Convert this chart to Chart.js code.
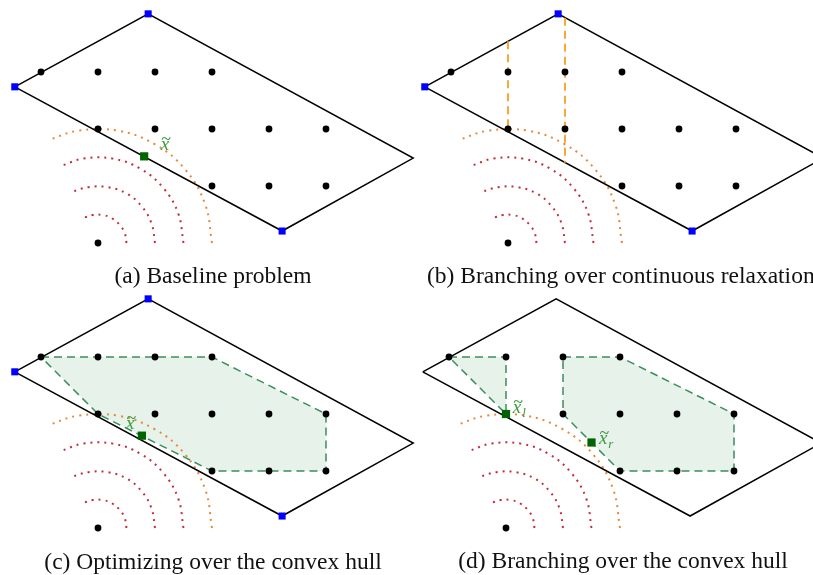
<!DOCTYPE html>
<html>
<head>
<meta charset="utf-8">
<script src="https://cdn.jsdelivr.net/npm/chart.js@4/dist/chart.umd.min.js"></script>
<style>
  html, body { margin: 0; padding: 0; background: #fff; }
  #wrap { position: relative; width: 813px; height: 575px; overflow: hidden; }
  canvas { position: absolute; }
  .cap { position: absolute; font-family: "Liberation Serif", "DejaVu Serif", serif; font-size: 23.5px;
         line-height: 23.5px; white-space: nowrap; color: #111; }
</style>
</head>
<body>
<div id="wrap">
  <canvas id="pa" width="420" height="272" style="left:0;top:0"></canvas>
  <canvas id="pb" width="420" height="272" style="left:410px;top:0"></canvas>
  <canvas id="pc" width="420" height="272" style="left:0;top:285px"></canvas>
  <canvas id="pd" width="420" height="272" style="left:408px;top:285px"></canvas>
  <div class="cap" style="left:213px;top:264px;transform:translateX(-50%)">(a) Baseline problem</div>
  <div class="cap" style="left:427px;top:264px">(b) Branching over continuous relaxation</div>
  <div class="cap" style="left:213px;top:550px;transform:translateX(-50%)">(c) Optimizing over the convex hull</div>
  <div class="cap" style="left:623px;top:549px;transform:translateX(-50%)">(d) Branching over the convex hull</div>
</div>
<script>
// integer lattice points
const latticeX = [-1, 0, 1, 2, 0, 1, 2, 3, 4, 2, 3, 4, 0];
const latticeY = [3, 3, 3, 3, 2, 2, 2, 2, 2, 1, 1, 1, 0];

// feasible region (parallelogram), left -> top -> right -> bottom
const regionX = [-1.46, 0.88, 5.53, 3.23];
const regionY = [2.74, 4.02, 1.49, 0.21];

// contour arcs of the objective (inner three red, outer orange)
const arc1X = [0.5, 0.47, 0.38, 0.25, 0.09, -0.09, -0.23];
const arc1Y = [0, 0.17, 0.32, 0.43, 0.49, 0.49, 0.45];
const arc2X = [1, 0.94, 0.77, 0.5, 0.17, -0.17, -0.45];
const arc2Y = [0, 0.34, 0.64, 0.87, 0.98, 0.98, 0.9];
const arc3X = [1.5, 1.41, 1.15, 0.75, 0.26, -0.26, -0.65];
const arc3Y = [0, 0.51, 0.96, 1.3, 1.48, 1.48, 1.35];
const arc4X = [2, 1.88, 1.53, 1, 0.35, -0.35, -0.86];
const arc4Y = [0, 0.68, 1.29, 1.73, 1.97, 1.97, 1.81];

// relaxation optimum
const optA = { x: 0.81, y: 1.52 };
const optC = { x: 0.77, y: 1.62 };
const optL = { x: 0, y: 2 };
const optR = { x: 1.5, y: 1.5 };

// branching cuts on the continuous relaxation
const cutLeftX = [0, 0];
const cutLeftY = [3.54, 1.95];
const cutRightX = [1, 1];
const cutRightY = [3.95, 1.41];

// convex hulls
const hullX = [-1, 2, 4, 4, 2, 0, -1];
const hullY = [3, 3, 2, 1, 1, 2, 3];
const hullLX = [-1, 0, 0, -1];
const hullLY = [3, 3, 2, 3];
const hullRX = [1, 2, 4, 4, 2, 1.5, 1, 1];
const hullRY = [3, 3, 2, 1, 1, 1.5, 2, 3];

const toPts = (xs, ys) => xs.map((x, i) => ({ x: x, y: ys[i] }));

const textLabels = {
  id: 'textLabels',
  afterDatasetsDraw(chart, args, opts) {
    const ctx = chart.ctx;
    const sx = chart.scales.x, sy = chart.scales.y;
    (opts.items || []).forEach(it => {
      const px = sx.getPixelForValue(it.x);
      const py = sy.getPixelForValue(it.y);
      ctx.save();
      ctx.fillStyle = '#3c9a3c';
      ctx.textBaseline = 'alphabetic';
      ctx.font = 'italic 19px "Liberation Serif"';
      ctx.fillText('x', px, py);
      const w = ctx.measureText('x').width;
      ctx.font = '18px "Liberation Serif"';
      ctx.fillText('~', px + 0.5, py - 5);
      if (it.sub) {
        ctx.font = 'italic 13px "Liberation Serif"';
        ctx.fillText(it.sub, px + w + 1, py + 4);
      }
      ctx.restore();
    });
  }
};
Chart.register(textLabels);

function lineSet(pts, color, width, dash, order) {
  return { data: pts, showLine: true, borderColor: color, borderWidth: width, borderDash: dash || [],
           pointRadius: 0, fill: false, tension: 0, clip: false, order: order };
}
function arcSet(xs, ys, color) {
  const s = lineSet(toPts(xs, ys), color, 2, [2, 5], 8);
  s.tension = 0.4;
  return s;
}
function hullSet(xs, ys) {
  const s = lineSet(toPts(xs, ys), '#3a8f5c', 1.5, [8, 5], 10);
  s.fill = 'shape';
  s.backgroundColor = '#e7f2eb';
  return s;
}
function regionSet() {
  const xs = regionX.concat([regionX[0]]);
  const ys = regionY.concat([regionY[0]]);
  return lineSet(toPts(xs, ys), '#000', 1.5, [], 7);
}
function latticeSet() {
  return { data: toPts(latticeX, latticeY), pointRadius: 3.4, pointBackgroundColor: '#000',
           pointBorderWidth: 0, clip: false, order: 2 };
}
function vertexSet() {
  return { data: toPts([regionX[0], regionX[1], regionX[3]], [regionY[0], regionY[1], regionY[3]]),
           pointStyle: 'rect', pointRadius: 5, pointBackgroundColor: '#0000ff', pointBorderWidth: 0,
           clip: false, order: 1 };
}
function optSet(pts) {
  return { data: pts, pointStyle: 'rect', pointRadius: 5.8, pointBackgroundColor: '#006400',
           pointBorderWidth: 0, clip: false, order: 0 };
}
function arcs() {
  return [arcSet(arc1X, arc1Y, '#c0303a'), arcSet(arc2X, arc2Y, '#c0303a'),
          arcSet(arc3X, arc3Y, '#c0303a'), arcSet(arc4X, arc4Y, '#e8883a')];
}

function makeChart(id, datasets, labels) {
  new Chart(document.getElementById(id), {
    type: 'scatter',
    data: { datasets: datasets },
    options: {
      responsive: false,
      animation: false,
      devicePixelRatio: 1,
      layout: { padding: 0, autoPadding: false },
      scales: {
        x: { type: 'linear', min: -98 / 57, max: (420 - 98) / 57, display: false },
        y: { type: 'linear', min: -29 / 57, max: 243 / 57, display: false }
      },
      plugins: { legend: { display: false }, tooltip: { enabled: false }, textLabels: { items: labels } }
    }
  });
}

makeChart('pa', arcs().concat([regionSet(), latticeSet(), vertexSet(), optSet([optA])]),
  [{ x: 1.1, y: 1.64 }]);

makeChart('pb', arcs().concat([regionSet(), latticeSet(), vertexSet(),
  lineSet(toPts(cutLeftX, cutLeftY), '#f5a020', 1.8, [8, 5], 6),
  lineSet(toPts(cutRightX, cutRightY), '#f5a020', 1.8, [8, 5], 6)]), []);

makeChart('pc', [hullSet(hullX, hullY)].concat(arcs(), [regionSet(), latticeSet(), vertexSet(), optSet([optC])]),
  [{ x: 0.49, y: 1.74 }]);

makeChart('pd', [hullSet(hullLX, hullLY), hullSet(hullRX, hullRY)].concat(arcs(), [regionSet(), latticeSet(),
  optSet([optL, optR])]),
  [{ x: 0.12, y: 2.02, sub: 'l' }, { x: 1.63, y: 1.47, sub: 'r' }]);
</script>
</body>
</html>
